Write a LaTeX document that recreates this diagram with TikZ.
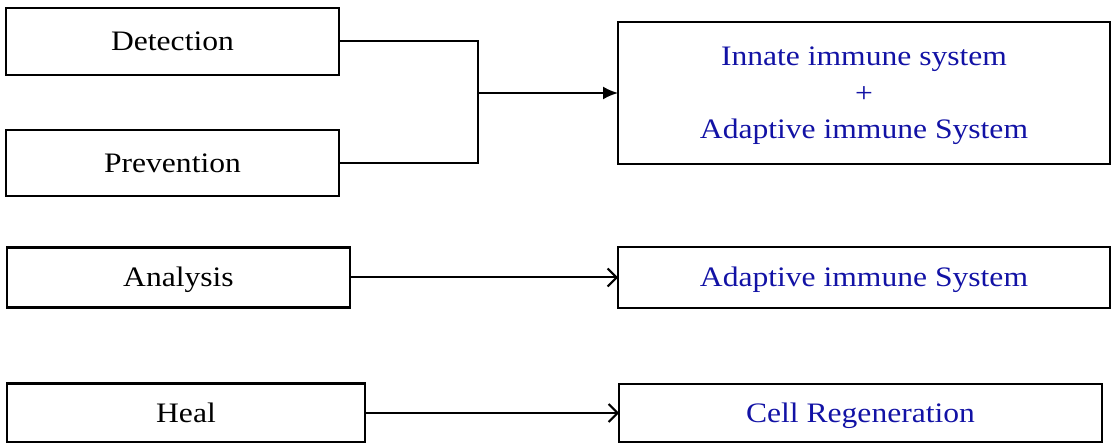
\documentclass[tikz,border=0pt]{standalone}
\usepackage{fontspec}
\setmainfont[FakeStretch=1.12]{Liberation Serif}
\usetikzlibrary{arrows.meta}
\definecolor{sysblue}{RGB}{18,18,165}
\begin{document}
\begin{tikzpicture}[x=1pt,y=-1pt,
  box/.style={draw=black,line width=2.2pt,inner sep=0pt,outer sep=0pt,
    font=\fontsize{28.2}{36.7}\selectfont,align=center,
    text height=18.5pt,text depth=0pt},
  sysbox/.style={box,text=sysblue},
  threelines/.style={text height=91.9pt,text depth=0pt},
  link/.style={draw=black,line width=2pt},
  solidtip/.style={link,-{Latex[length=15pt,width=13pt]}},
  opentip/.style={link,-{Straight Barb[length=9pt,width=18pt,line width=2pt]}}]
\useasboundingbox (0,0) rectangle (1112,443);
% left column: activities
\node[box,minimum width=333pt,minimum height=67pt] (det) at (172.5,41.5) {Detection};
\node[box,minimum width=333pt,minimum height=66pt] (prev) at (172.5,163) {Prevention};
\node[box,minimum width=343pt,minimum height=60pt] (ana) at (178.5,277.5) {Analysis};
\node[box,minimum width=358pt,minimum height=59pt] (heal) at (186,413) {Heal};
% right column: responsible systems
\node[sysbox,threelines,minimum width=492pt,minimum height=142pt] (both) at (864,93)
  {Innate immune system\\+\\Adaptive immune System};
\node[sysbox,minimum width=492pt,minimum height=61pt] (adapt) at (864,277.5) {Adaptive immune System};
\node[sysbox,minimum width=483pt,minimum height=58pt] (cell) at (860.5,413) {Cell Regeneration};
% connectors
\coordinate (join) at (478,93);
\draw[link] (det.east) -| (join) |- (prev.east);
\draw[solidtip] (join) -- (both.west);
\draw[opentip] (ana.east) -- (ana.east -| adapt.west);
\draw[opentip] (heal.east) -- (heal.east -| cell.west);
\end{tikzpicture}
\end{document}
